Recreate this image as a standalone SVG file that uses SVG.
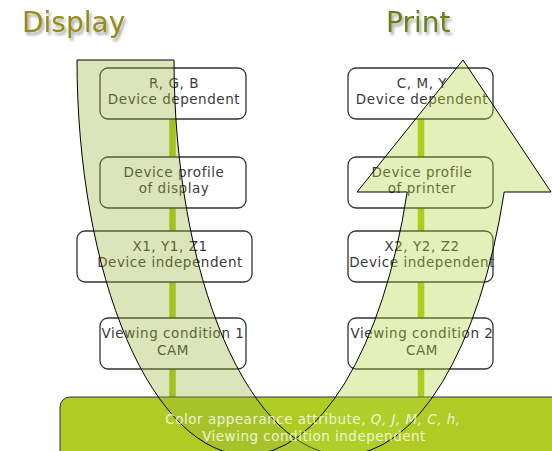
<svg xmlns="http://www.w3.org/2000/svg" width="552" height="451" viewBox="0 0 552 451">
<defs>
<filter id="shadow" x="-20%" y="-20%" width="140%" height="160%">
<feDropShadow dx="2" dy="3" stdDeviation="1.8" flood-color="#000" flood-opacity="0.35"/>
</filter>
<style>
.box{fill:#fff;stroke:#333;stroke-width:1.3}
.t{font-family:"DejaVu Sans",sans-serif;font-size:13.5px;fill:#3a3a3a;text-anchor:middle;letter-spacing:0.55px}
.conn{stroke:#a9c813;stroke-width:6.5;fill:none}
.title{font-family:"DejaVu Sans",sans-serif;font-size:28px;filter:url(#shadow)}
.band{stroke:#000;stroke-width:1}
.bt{font-family:"DejaVu Sans",sans-serif;font-size:13.5px;fill:#fff;fill-opacity:0.8;text-anchor:middle;letter-spacing:0.5px}
</style>
</defs>
<rect width="552" height="451" fill="#fff"/>
<text class="title" x="22" y="32" fill="#948d1e">Display</text>
<text class="title" x="386" y="32" fill="#6b7f1f">Print</text>
<g id="connectors">
<line class="conn" x1="172.5" y1="119" x2="172.5" y2="157"/>
<line class="conn" x1="172.5" y1="208" x2="172.5" y2="231"/>
<line class="conn" x1="172.5" y1="282" x2="172.5" y2="318"/>
<line class="conn" x1="172.5" y1="369" x2="172.5" y2="397"/>
<line class="conn" x1="421" y1="119" x2="421" y2="157"/>
<line class="conn" x1="421" y1="208" x2="421" y2="231"/>
<line class="conn" x1="421" y1="282" x2="421" y2="318"/>
<line class="conn" x1="421" y1="369" x2="421" y2="397"/>
</g>
<g id="rgb">
<rect class="box" x="100" y="68" width="146" height="51" rx="8"/>
<text class="t" x="174" y="88">R, G, B</text>
<text class="t" x="174" y="104">Device dependent</text>
</g>
<g id="profile-display">
<rect class="box" x="100" y="157" width="146" height="51" rx="8"/>
<text class="t" x="174" y="177">Device profile</text>
<text class="t" x="174" y="193">of display</text>
</g>
<g id="xyz1">
<rect class="box" x="77" y="231" width="175" height="51" rx="8"/>
<text class="t" x="170" y="251">X1, Y1, Z1</text>
<text class="t" x="170" y="267">Device independent</text>
</g>
<g id="vc1">
<rect class="box" x="100" y="318" width="146" height="51" rx="8"/>
<text class="t" x="173" y="338">Viewing condition 1</text>
<text class="t" x="173" y="355">CAM</text>
</g>
<g id="cmy">
<rect class="box" x="348" y="68" width="145" height="51" rx="8"/>
<text class="t" x="422" y="88">C, M, Y</text>
<text class="t" x="422" y="104">Device dependent</text>
</g>
<g id="profile-printer">
<rect class="box" x="348" y="157" width="145" height="51" rx="8"/>
<text class="t" x="422" y="177">Device profile</text>
<text class="t" x="422" y="193">of printer</text>
</g>
<g id="xyz2">
<rect class="box" x="348" y="231" width="145" height="51" rx="8"/>
<text class="t" x="422" y="251">X2, Y2, Z2</text>
<text class="t" x="422" y="267">Device independent</text>
</g>
<g id="vc2">
<rect class="box" x="348" y="318" width="145" height="51" rx="8"/>
<text class="t" x="422" y="338">Viewing condition 2</text>
<text class="t" x="422" y="355">CAM</text>
</g>
<g id="cam-bar">
<rect x="60" y="397" width="520" height="80" rx="10" fill="#b0cc24" stroke="#333" stroke-width="1"/>
</g>
<g id="arrows">
<path class="band" fill="rgb(155,178,55)" fill-opacity="0.35" d="M77,60 L174,60 A170,395 0 0 0 344,455 L247,455 A170,395 0 0 1 77,60 Z"/>
<path class="band" fill="rgb(178,212,55)" fill-opacity="0.35" d="M407.2,192 A170,395 0 0 1 247,455 L344,455 A170,395 0 0 0 504.2,192 L551,192 L463,60 L357,192 Z"/>
</g>
<g id="cam-text">
<text class="bt" x="313" y="424">Color appearance attribute, <tspan font-style="italic">Q, J, M, C, h,</tspan></text>
<text class="bt" x="314" y="441">Viewing condition independent</text>
</g>
</svg>
